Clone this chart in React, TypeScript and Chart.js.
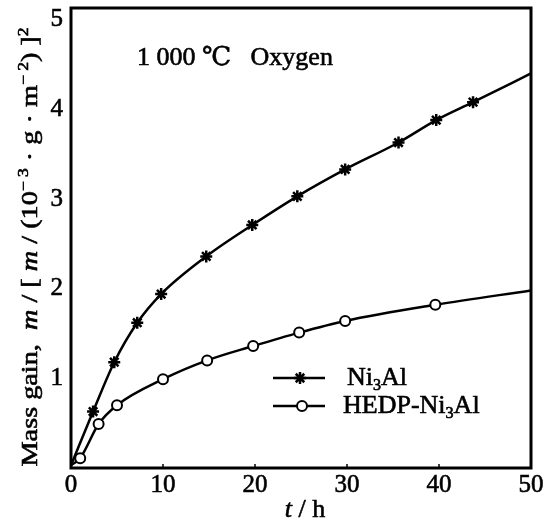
import React, { useEffect, useRef } from "react";
import { Chart, registerables } from "chart.js";

Chart.register(...registerables);

// ---- data ----
const tNi3Al = [0, 2.4, 4.7, 7.2, 9.8, 14.7, 19.7, 24.6, 29.8, 35.6, 39.7, 43.7, 50];
const mNi3Al = [0.03, 0.63, 1.18, 1.62, 1.94, 2.36, 2.71, 3.03, 3.33, 3.63, 3.88, 4.08, 4.4];
const markNi3Al = [false, true, true, true, true, true, true, true, true, true, true, true, false];

const tHEDP = [0, 1, 3, 5, 10, 14.8, 19.8, 24.8, 29.8, 39.6, 50];
const mHEDP = [0.03, 0.11, 0.49, 0.7, 0.99, 1.2, 1.36, 1.51, 1.64, 1.82, 1.98];
const markHEDP = [false, true, true, true, true, true, true, true, true, true, false];

const xTicks = [0, 10, 20, 30, 40, 50];
const yTicks = [1, 2, 3, 4, 5];

const FONT = "'Liberation Serif', 'DejaVu Serif', serif";

type Seg = { text: string; italic?: boolean; sup?: boolean; sub?: boolean };

const yTitleSegs: Seg[] = [
  { text: "Mass gain,  " },
  { text: "m", italic: true },
  { text: " / [ " },
  { text: "m", italic: true },
  { text: " / (10" },
  { text: "\u2212 3", sup: true },
  { text: " \u00B7 g \u00B7 m" },
  { text: "\u2212 2", sup: true },
  { text: ") ]" },
  { text: "2", sup: true },
];
const xTitleSegs: Seg[] = [{ text: "t", italic: true }, { text: " / h" }];
const noteText = "1 000 \u2103   Oxygen";
const legendNi3Al: Seg[] = [{ text: "Ni" }, { text: "3", sub: true }, { text: "Al" }];
const legendHEDP: Seg[] = [{ text: "HEDP-Ni" }, { text: "3", sub: true }, { text: "Al" }];

function segFont(s: Seg, size: number) {
  const fs = s.sup || s.sub ? size * 0.62 : size;
  return `${s.italic ? "italic " : ""}${fs}px ${FONT}`;
}
function richWidth(ctx: CanvasRenderingContext2D, segs: Seg[], size: number) {
  let w = 0;
  for (const s of segs) {
    ctx.font = segFont(s, size);
    w += ctx.measureText(s.text).width;
  }
  return w;
}
function drawRich(ctx: CanvasRenderingContext2D, segs: Seg[], x: number, y: number, size: number) {
  let cx = x;
  for (const s of segs) {
    ctx.font = segFont(s, size);
    const dy = s.sup ? -size * 0.4 : s.sub ? size * 0.18 : 0;
    ctx.fillText(s.text, cx, y + dy);
    ctx.strokeText(s.text, cx, y + dy);
    cx += ctx.measureText(s.text).width;
  }
}
function drawStar(ctx: CanvasRenderingContext2D, x: number, y: number, r: number) {
  ctx.beginPath();
  for (let i = 0; i < 4; i++) {
    const a = (i * Math.PI) / 4;
    ctx.moveTo(x - r * Math.cos(a), y - r * Math.sin(a));
    ctx.lineTo(x + r * Math.cos(a), y + r * Math.sin(a));
  }
  ctx.stroke();
}

const deco = {
  id: "deco",
  afterDraw(chart: any) {
    const { ctx, chartArea: a, scales } = chart;
    const xs = scales.x;
    const ys = scales.y;
    ctx.save();
    ctx.fillStyle = "#000";
    ctx.strokeStyle = "#000";
    // frame
    ctx.lineWidth = 3;
    ctx.strokeRect(a.left, a.top, a.right - a.left, a.bottom - a.top);
    // small inward ticks on x axis
    ctx.lineWidth = 1.5;
    for (const v of xTicks.slice(1, -1)) {
      const px = xs.getPixelForValue(v);
      ctx.beginPath();
      ctx.moveTo(px, a.bottom);
      ctx.lineTo(px, a.bottom - 4);
      ctx.stroke();
    }
    // tick labels
    ctx.lineWidth = 0.6;
    ctx.font = `25px ${FONT}`;
    ctx.textAlign = "right";
    ctx.textBaseline = "middle";
    for (const v of yTicks) {
      const py = ys.getPixelForValue(v);
      ctx.fillText(String(v), a.left - 8, py);
      ctx.strokeText(String(v), a.left - 8, py);
    }
    ctx.textAlign = "center";
    ctx.textBaseline = "top";
    for (const v of xTicks) {
      const px = xs.getPixelForValue(v);
      ctx.fillText(String(v), px, a.bottom + 5);
      ctx.strokeText(String(v), px, a.bottom + 5);
    }
    ctx.textBaseline = "alphabetic";
    ctx.textAlign = "left";
    // y title (rotated)
    const ySize = 23;
    const yw = richWidth(ctx, yTitleSegs, ySize);
    const target = 439;
    ctx.save();
    ctx.translate(37, 247);
    ctx.rotate(-Math.PI / 2);
    ctx.scale(target / yw, 1);
    drawRich(ctx, yTitleSegs, -yw / 2, 0, ySize);
    ctx.restore();
    // x title
    const xSize = 26;
    const xw = richWidth(ctx, xTitleSegs, xSize);
    drawRich(ctx, xTitleSegs, 305 - xw / 2, 517, xSize);
    // note
    ctx.font = `26px ${FONT}`;
    ctx.fillText(noteText, 137, 65);
    ctx.strokeText(noteText, 137, 65);
    // legend
    const rows = [
      { y: 378, segs: legendNi3Al, tx: 347, star: true },
      { y: 406, segs: legendHEDP, tx: 343, star: false },
    ];
    for (const r of rows) {
      ctx.lineWidth = 2.5;
      ctx.beginPath();
      ctx.moveTo(273, r.y);
      ctx.lineTo(325, r.y);
      ctx.stroke();
      if (r.star) {
        drawStar(ctx, 300, r.y, 6);
      } else {
        ctx.beginPath();
        ctx.arc(302, r.y, 5, 0, Math.PI * 2);
        ctx.fillStyle = "#fff";
        ctx.fill();
        ctx.lineWidth = 2;
        ctx.stroke();
        ctx.fillStyle = "#000";
      }
      ctx.lineWidth = 0.6;
      drawRich(ctx, r.segs, r.tx, r.y + 7, 26);
    }
    ctx.restore();
  },
};

export default function App() {
  const ref = useRef<HTMLCanvasElement | null>(null);
  useEffect(() => {
    if (!ref.current) return;
    const chart = new Chart(ref.current, {
      type: "line",
      data: {
        datasets: [
          {
            label: "Ni3Al",
            data: tNi3Al.map((t, i) => ({ x: t, y: mNi3Al[i] })),
            borderColor: "#000",
            backgroundColor: "#000",
            borderWidth: 2.5,
            pointStyle: "star",
            pointRadius: markNi3Al.map((m) => (m ? 6 : 0)),
            pointBorderWidth: 2.5,
            pointBorderColor: "#000",
            cubicInterpolationMode: "monotone",
            fill: false,
          },
          {
            label: "HEDP-Ni3Al",
            data: tHEDP.map((t, i) => ({ x: t, y: mHEDP[i] })),
            borderColor: "#000",
            backgroundColor: "#fff",
            borderWidth: 2.5,
            pointStyle: "circle",
            pointRadius: markHEDP.map((m) => (m ? 5 : 0)),
            pointBorderWidth: 2,
            pointBorderColor: "#000",
            pointBackgroundColor: "#fff",
            cubicInterpolationMode: "monotone",
            fill: false,
          },
        ],
      },
      options: {
        responsive: false,
        animation: false,
        layout: { padding: { top: 8, right: 15, left: 0, bottom: 0 } },
        plugins: { legend: { display: false }, tooltip: { enabled: false } },
        scales: {
          x: {
            type: "linear",
            min: 0,
            max: 50,
            afterBuildTicks: (s: any) => {
              s.ticks = xTicks.map((v) => ({ value: v }));
            },
            afterFit: (s: any) => {
              s.height = 60;
            },
            grid: { display: false, drawTicks: false },
            border: { display: false },
            ticks: { display: false },
          },
          y: {
            type: "linear",
            min: 0,
            max: 5.13,
            afterBuildTicks: (s: any) => {
              s.ticks = yTicks.map((v) => ({ value: v }));
            },
            afterFit: (s: any) => {
              s.width = 71;
            },
            grid: { display: false, drawTicks: false },
            border: { display: false },
            ticks: { display: false },
          },
        },
      },
      plugins: [deco],
    } as any);
    return () => chart.destroy();
  }, []);
  return (
    <div style={{ position: "fixed", left: 0, top: 0, width: 546, height: 528, background: "#fff" }}>
      <canvas ref={ref} width={546} height={528} />
    </div>
  );
}
